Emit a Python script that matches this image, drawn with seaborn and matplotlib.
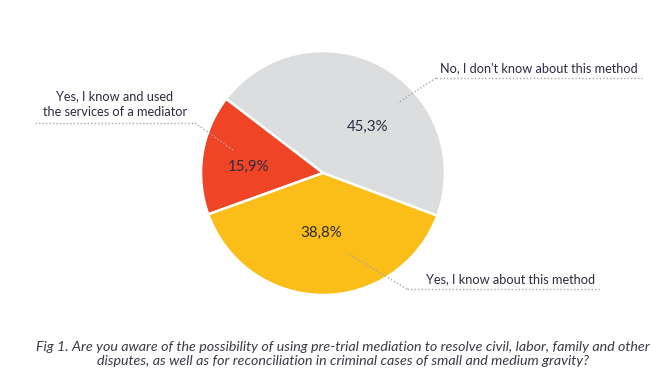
import numpy as np
import matplotlib.pyplot as plt
import seaborn as sns

# data
labels = ["No, I don't know about this method",
          "Yes, I know and used\nthe services of a mediator",
          "Yes, I know about this method"]
shares = [45.3, 15.9, 38.8]
colors = ["#dcdddf", "#ef4426", "#fbbd18"]

sns.set_theme(style="white")
plt.rcParams['font.family'] = ['Lato', 'DejaVu Sans']

W, H = 668, 390
fig = plt.figure(figsize=(W / 100, H / 100), dpi=100)
ax = fig.add_axes([0, 0, 1, 1])

cx, cy, r = 323, H - 173, 122
wedges, _ = ax.pie(shares, colors=colors, startangle=-20.5, counterclock=True,
                   center=(cx, cy), radius=r,
                   wedgeprops=dict(edgecolor='white', linewidth=1.8))

ax.set_xlim(0, W)
ax.set_ylim(0, H)
ax.set_aspect('equal')
ax.axis('off')

txt_color = "#2b2d42"

# percentage labels (polar offset from centre: radius, angle)
pct_pos = [(64, 46), (75, 175), (60, 268)]
for val, (pr, pa) in zip(shares, pct_pos):
    a = np.deg2rad(pa)
    ax.text(cx + pr * np.cos(a), cy + pr * np.sin(a), f"{val:.1f}%".replace('.', ','),
            ha='center', va='center', fontsize=10.8, color=txt_color)

line_kw = dict(color='#a8a8a8', linestyle=(0, (1, 1.5)), linewidth=1)

# callouts: (text x, text y, underline x0, x1, underline y, tip x, tip y)
callouts = [
    (539, 68, 436, 642, 78, 398, 103),
    (115, 104, 35, 195, 123, 233, 150),
    (511, 279, 407, 600, 289, 347, 253),
]
for lab, (tx, ty, x0, x1, uy, px, py) in zip(labels, callouts):
    ax.text(tx, H - ty, lab, ha='center', va='center', fontsize=9.2,
            color=txt_color, linespacing=1.3)
    ax.plot([x0, x1], [H - uy, H - uy], **line_kw)
    sx = x0 if px < x0 else x1
    ax.plot([sx, px], [H - uy, H - py], **line_kw)

caption = ("Fig 1. Are you aware of the possibility of using pre-trial mediation to resolve civil, labor, family and other\n"
           "disputes, as well as for reconciliation in criminal cases of small and medium gravity?")
ax.text(343, H - 354, caption, ha='center', va='center', fontsize=10.3,
        style='italic', color='#3a3a48', linespacing=1.25)

fig.savefig('out.png', dpi=100)
